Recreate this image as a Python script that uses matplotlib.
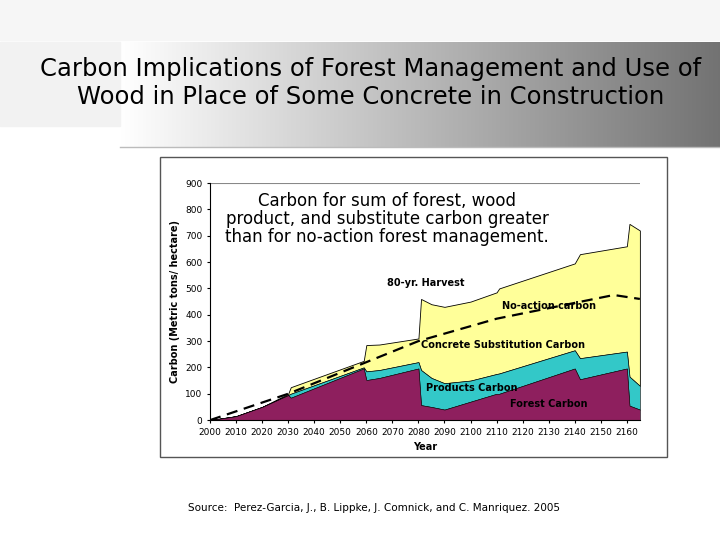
import numpy as np
import matplotlib.pyplot as plt
from matplotlib.patches import Rectangle

years = [2000,2010,2020,2030,2031,2059,2060,2065,2080,2081,2085,2090,2100,2110,2111,2140,2142,2160,2161,2165]
forest = [0,15,50,95,85,196,152,160,196,57,50,40,70,100,100,196,155,196,55,40]
products_top = [0,15,50,95,100,200,185,190,220,190,160,140,150,175,177,265,235,260,165,130]
total_top = [0,15,50,100,125,225,285,287,310,460,440,430,450,485,500,595,630,660,745,720]
noaction_years = [2000,2030,2080,2110,2155,2165]
noaction = [0,100,300,385,475,460]
xticks = list(range(2000,2161,10))
yticks = list(range(0,901,100))

fig = plt.figure(figsize=(7.2,5.4), dpi=100)
bg = fig.add_axes([0,0,1,1]); bg.set_xlim(0,720); bg.set_ylim(540,0); bg.axis('off')
grad = np.linspace(1,0.45,256)[None,:]
bg.imshow(np.dstack([grad]*3), extent=[120,720,148,42], aspect='auto', zorder=0)
bg.add_patch(Rectangle((0,42),120,84,color='#f2f2f2',zorder=0))
bg.add_patch(Rectangle((0,0),720,40,color='#f6f6f6',zorder=0))
bg.plot([120,720],[147,147],color='#bbbbbb',lw=1)
bg.add_patch(Rectangle((160,157),507,300,fill=False,ec='#555555',lw=1))
bg.text(371,83,"Carbon Implications of Forest Management and Use of\nWood in Place of Some Concrete in Construction",
        ha='center',va='center',fontsize=17.5,family='DejaVu Sans',linespacing=1.2)
bg.text(188,508,"Source:  Perez-Garcia, J., B. Lippke, J. Comnick, and C. Manriquez. 2005",fontsize=7.5,va='center')

ax = fig.add_axes([0.2917,0.222,0.597,0.439])
ax.fill_between(years,products_top,total_top,color='#ffff99',ec='black',lw=0.6)
ax.fill_between(years,forest,products_top,color='#33c8c8',ec='black',lw=0.4)
ax.fill_between(years,0,forest,color='#8e1f5e',ec='black',lw=0.4)
ax.plot(noaction_years,noaction,'k--',lw=1.6,dashes=(5,3))
ax.axhline(900,color='#888888',lw=0.8)
ax.set_xlim(2000,2165); ax.set_ylim(0,900)
ax.set_xticks(xticks); ax.set_yticks(yticks)
ax.tick_params(labelsize=6.5,length=2)
for s in ['top','right']: ax.spines[s].set_visible(False)
ax.set_xlabel('Year',fontsize=7,fontweight='bold')
ax.set_ylabel('Carbon (Metric tons/ hectare)',fontsize=7,fontweight='bold')
ax.text(2068,762,"Carbon for sum of forest, wood\nproduct, and substitute carbon greater\nthan for no-action forest management.",
        ha='center',va='center',fontsize=12,linespacing=1.0)
ax.text(2068,510,"80-yr. Harvest",fontsize=7,fontweight='bold')
ax.text(2112,420,"No-action carbon",fontsize=7,fontweight='bold')
ax.text(2081,275,"Concrete Substitution Carbon",fontsize=7,fontweight='bold')
ax.text(2083,112,"Products Carbon",fontsize=7,fontweight='bold')
ax.text(2115,50,"Forest Carbon",fontsize=7,fontweight='bold')
fig.savefig('out.png')
